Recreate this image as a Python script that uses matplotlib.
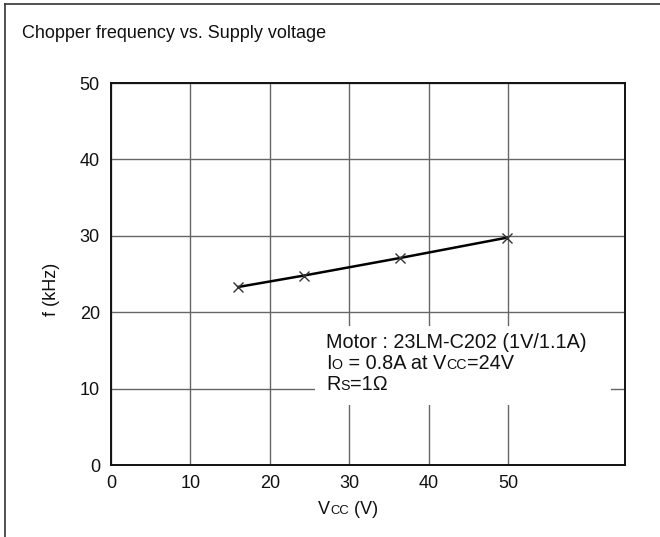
import matplotlib
matplotlib.use("Agg")
import matplotlib.pyplot as plt
from matplotlib.offsetbox import TextArea, HPacker, VPacker, AnnotationBbox
from matplotlib.patches import Rectangle
from matplotlib.lines import Line2D

plt.rcParams['font.family'] = ['Liberation Sans', 'DejaVu Sans']

# measured points
vcc = [16.0, 24.3, 36.4, 49.8]
freq = [23.3, 24.8, 27.1, 29.75]
x_ticks = [0, 10, 20, 30, 40, 50]
y_ticks = [0, 10, 20, 30, 40, 50]

FS = 13
NOTE_FS = 14.3
TXT = '#111111'


def rich(parts, size=FS):
    # parts: list of (text, is_small) -> small uppercase letters sit on the baseline
    boxes = [TextArea(t, textprops=dict(fontsize=size * (0.72 if small else 1.0), color=TXT))
             for t, small in parts]
    return HPacker(children=boxes, align='baseline', pad=0, sep=0)


W, H = 660, 537
fig = plt.figure(figsize=(6.6, 5.37), dpi=100)
ax = fig.add_axes([111 / W, 1 - 465 / H, (625 - 111) / W, (465 - 83) / H])

ax.set_xlim(0, 64.7)
ax.set_ylim(0, 50)
ax.set_xticks(x_ticks)
ax.set_yticks(y_ticks)
ax.tick_params(length=0, labelsize=FS, colors=TXT)
ax.tick_params(axis='y', pad=8)
ax.tick_params(axis='x', pad=7)
ax.grid(True, color='#666666', lw=1.0)
for s in ax.spines.values():
    s.set_color('#111111')
    s.set_linewidth(1.4)

ax.plot(vcc, freq, color='black', lw=1.8, marker='x', ms=7, mew=1.0, mec='#333333', zorder=5)

# white patch behind the note, hides the grid there
ax.add_patch(Rectangle((25.7, 7.85), 37.2, 10.4, fc='white', ec='none', zorder=3))

note = VPacker(children=[
    rich([('Motor : 23LM-C202 (1V/1.1A)', False)], NOTE_FS),
    rich([('I', False), ('O', True), (' = 0.8A at V', False), ('CC', True), ('=24V', False)], NOTE_FS),
    rich([('R', False), ('S', True), ('=1\u03a9', False)], NOTE_FS),
], align='left', pad=0, sep=1.5)
ax.add_artist(AnnotationBbox(note, (27.1, 17.3), box_alignment=(0, 1), frameon=False, zorder=4))

# x label with small CC
xl = rich([('V', False), ('CC', True), (' (V)', False)])
ax.add_artist(AnnotationBbox(xl, (348 / W, 1 - 509 / H), xycoords='figure fraction',
                             box_alignment=(0.5, 0.5), frameon=False, annotation_clip=False))

fig.text(52 / W, 1 - 289 / H, 'f (kHz)', rotation=90, ha='center', va='center', fontsize=FS, color=TXT)
fig.text(22 / W, 1 - 33 / H, 'Chopper frequency vs. Supply voltage', ha='left', va='center',
         fontsize=FS, color=TXT)

# frame of the picture: only top and left edges are visible
fig.lines.append(Line2D([5 / W, 5 / W], [0, 1 - 4 / H], transform=fig.transFigure, color='#333333', lw=1.2))
fig.lines.append(Line2D([5 / W, 1], [1 - 4 / H, 1 - 4 / H], transform=fig.transFigure, color='#333333', lw=1.2))

fig.savefig('out.png', dpi=100)
